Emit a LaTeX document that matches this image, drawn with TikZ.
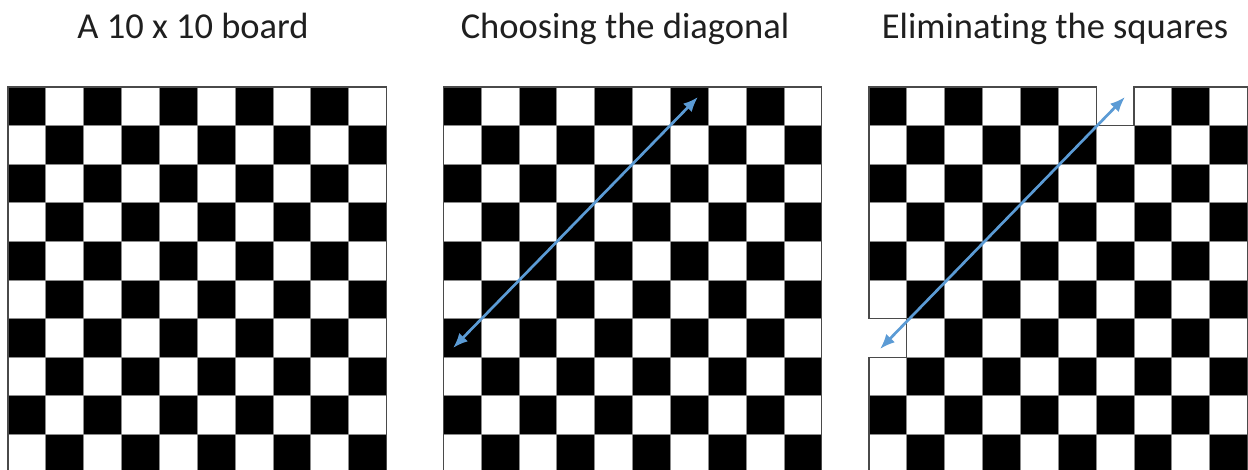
\documentclass[tikz,border=0pt]{standalone}
\usepackage{fontspec}
\setmainfont{Carlito}[Ligatures={NoCommon}]
\usetikzlibrary{arrows.meta}
\definecolor{arrowblue}{HTML}{5B9BD5}
\definecolor{gridgray}{HTML}{8C8C8C}
\definecolor{edgegray}{HTML}{4A4A4A}
\tikzset{
  title/.style={font=\fontsize{36.5}{40}\selectfont, text=black!88, anchor=base, inner sep=0pt},
  cellb/.style={fill=black, draw=gridgray, line width=0.9pt},
  cellw/.style={fill=white, draw=gridgray, line width=0.9pt},
  boardedge/.style={draw=edgegray, line width=1.2pt},
  diag/.style={draw=arrowblue, line width=2.7pt, {Latex[length=15pt,width=12pt]}-{Latex[length=15pt,width=12pt]}},
}
\newcommand{\cw}{37.85}
\newcommand{\rh}{38.6}
\begin{document}
\begin{tikzpicture}[x=1pt,y=-1pt]
\useasboundingbox (0,0) rectangle (1248,470);
\clip (0,0) rectangle (1248,470);
\fill[white] (0,0) rectangle (1248,470);
% titles
\node[title] (t1) at (193,39) {A 10 x 10 board};
\node[title] (t2) at (625,39) {Choosing the diagonal};
\node[title] (t3) at (1055,39) {Eliminating the squares};
% boards
\foreach \b/\ox in {1/8, 2/443.3, 3/869}{
  \foreach \r in {0,...,9}{
    \foreach \c in {0,...,9}{
      \pgfmathtruncatemacro\isblack{mod(\c+\r,2)==0}
      \pgfmathtruncatemacro\gone{(\b==3)&&(((\c==6)&&(\r==0))||((\c==0)&&(\r==6)))}
      \ifnum\gone=0
        \ifnum\isblack=1
          \path[cellb] (\ox+\c*\cw, 87+\r*\rh) rectangle ++(\cw,\rh);
        \else
          \path[cellw] (\ox+\c*\cw, 87+\r*\rh) rectangle ++(\cw,\rh);
        \fi
      \fi
    }
  }
}
\draw[boardedge] (8,87) rectangle ++(378.5,386);
\draw[boardedge] (443.3,87) rectangle ++(378.5,386);
\draw[boardedge] (869,87) -- (869+6*\cw,87) -- (869+6*\cw,87+\rh) -- (869+7*\cw,87+\rh)
  -- (869+7*\cw,87) -- (869+10*\cw,87) -- (869+10*\cw,473) -- (869,473)
  -- (869,87+7*\rh) -- (869+\cw,87+7*\rh) -- (869+\cw,87+6*\rh) -- (869,87+6*\rh) -- cycle;
% diagonal arrows
\coordinate (d2a) at (453,348);
\coordinate (d2b) at (698,97);
\coordinate (d3a) at (880,349);
\coordinate (d3b) at (1125,97);
\draw[diag] (d2a) -- (d2b);
\draw[diag] (d3a) -- (d3b);
\end{tikzpicture}
\end{document}
